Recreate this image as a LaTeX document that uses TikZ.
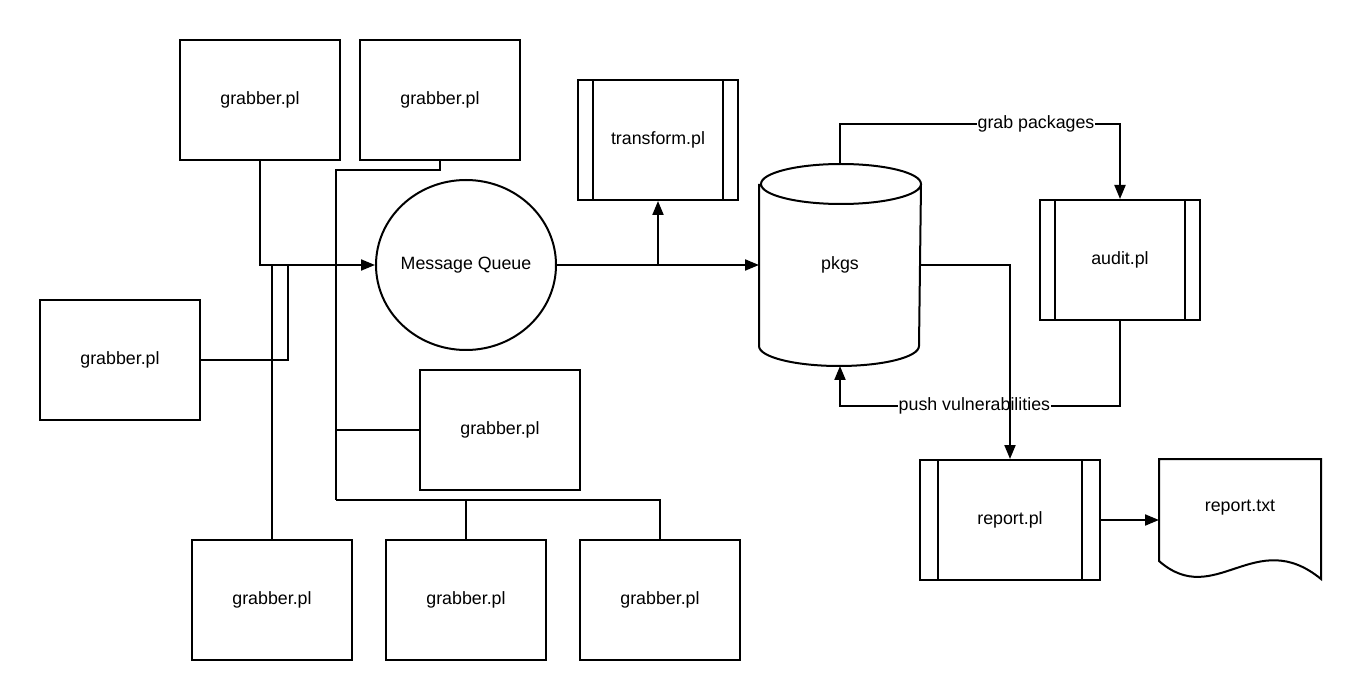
\documentclass[tikz,border=0pt]{standalone}
\usepackage{fontspec}
\setmainfont{Liberation Sans}
\usetikzlibrary{positioning,shapes.geometric,arrows.meta,calc}
\newcommand\boxfont{\fontsize{17.8}{21}\selectfont}
\tikzset{
  grabbox/.style={draw, minimum width=160pt, minimum height=120pt},
  procbox/.style={draw, minimum width=160pt, minimum height=120pt,
    path picture={
      \draw[line width=2pt] ([xshift=#1]path picture bounding box.north west)
        -- ([xshift=#1]path picture bounding box.south west);
      \draw[line width=2pt] ([xshift=-#1]path picture bounding box.north east)
        -- ([xshift=-#1]path picture bounding box.south east);}},
  procbox/.default=15pt,
  arr/.style={-{Triangle[length=14pt,width=11pt]}},
  lbl/.style={fill=white, inner sep=1pt},
}
\begin{document}
\begin{tikzpicture}[x=1pt, y=-1pt, line width=2pt, every node/.style={font=\boxfont}]
  \useasboundingbox (0,0) rectangle (1360,700);
  % grabbers
  \node[grabbox] (g1) at (260,100) {grabber.pl};
  \node[grabbox] (g2) at (440,100) {grabber.pl};
  \node[grabbox] (g3) at (120,360) {grabber.pl};
  \node[grabbox] (g4) at (500,430) {grabber.pl};
  \node[grabbox] (g5) at (272,600) {grabber.pl};
  \node[grabbox] (g6) at (466,600) {grabber.pl};
  \node[grabbox] (g7) at (660,600) {grabber.pl};
  % queue and stores
  \node[minimum width=180pt, minimum height=170pt] (mq) at (466,265) {Message Queue};
  \draw (mq.center) ellipse [x radius=90pt, y radius=85pt];
  \node[procbox] (tr) at (658,140) {transform.pl};
  \node[minimum width=160pt, minimum height=200pt] (pkgs) at (840,265) {pkgs};
  \draw ([yshift=-20pt]pkgs.north west) -- ([yshift=20pt]pkgs.south west)
    arc[start angle=180, end angle=360, x radius=80pt, y radius=20pt]
    -- ([yshift=-20pt]pkgs.north east)
    arc[start angle=0, end angle=180, x radius=80pt, y radius=20pt]
    arc[start angle=180, end angle=360, x radius=80pt, y radius=20pt];
  \node[procbox] (audit) at (1120,260) {audit.pl};
  \node[procbox=18pt, minimum width=180pt] (rpl) at (1010,520) {report.pl};
  \node[minimum width=160pt, minimum height=118pt, text depth=26pt] (rtxt) at (1240,519) {report.txt};
  \draw (rtxt.south east) .. controls (1255,525) and (1215,610) .. ([yshift=18pt]rtxt.south west)
    -- (rtxt.north west) -- (rtxt.north east) -- cycle;
  % grabbers into the queue
  \coordinate (j3) at (288,265);
  \coordinate (tk) at (336,170);
  \coordinate (bus) at (336,500);
  \draw[arr] (g1.south) |- (mq.west);
  \draw (g3.east) -| (j3);
  \draw (g5.north) -- (g5.north |- mq.west);
  \draw (g2.south) |- (tk) -- (bus);
  \draw (g4.west) -- (g4.west -| bus);
  \draw (g6.north) |- (bus);
  \draw (g7.north) |- (bus);
  % queue onwards
  \draw[arr] (mq.east) -- (pkgs.west);
  \draw[arr] (mq.east -| tr.south) -- (tr.south);
  \draw[arr] (pkgs.north) -- ++(0,-40) -| node[lbl, pos=0.35] {grab packages} (audit.north);
  \draw[arr] (audit.south) -- ++(0,85) -| node[lbl, pos=0.26] {push vulnerabilities} (pkgs.south);
  \draw[arr] (pkgs.east) -| (rpl.north);
  \draw[arr] (rpl.east) -- (rpl.east -| rtxt.west);
\end{tikzpicture}
\end{document}
